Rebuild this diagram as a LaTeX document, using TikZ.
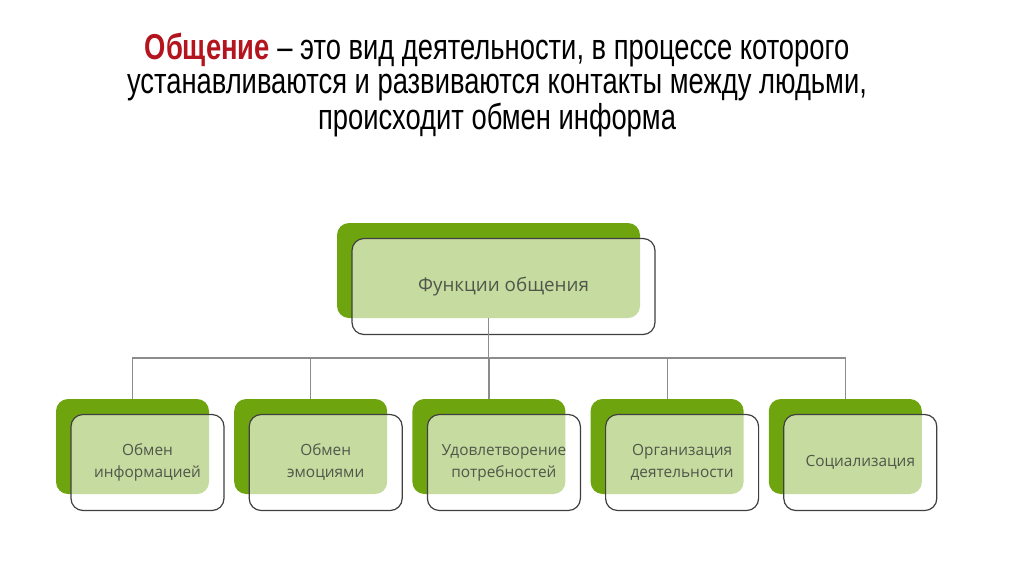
\documentclass[tikz,border=0pt]{standalone}
\usepackage{fontspec}
\setmainfont{Liberation Sans}
\newfontfamily\titlefont{Liberation Sans}[FakeStretch=0.76]
\newfontfamily\boxfont{Open Sans}
\usepackage{xcolor}
\usetikzlibrary{positioning,calc}

\definecolor{leaf}{HTML}{6EA50F}
\definecolor{boxtext}{HTML}{50574A}
\definecolor{linegray}{HTML}{8C8C8C}
\definecolor{accent}{HTML}{B3141E}

\begin{document}
\begin{tikzpicture}[
    x=0.5pt, y=-0.5pt,
    back/.style={fill=leaf, rounded corners=6pt, inner sep=0pt, outer sep=0pt, minimum width=76.5pt, minimum height=47.5pt},
    front/.style={draw=black!75, line width=0.6pt, fill=white, fill opacity=0.6, text opacity=1,
        rounded corners=6pt, inner sep=0pt, minimum width=76.5pt, minimum height=48pt,
        align=center, text=boxtext, font=\boxfont\fontsize{7.7}{11}\selectfont},
    link/.style={draw=linegray, line width=0.6pt},
    node distance=12.6pt,
]
\useasboundingbox (0,0) rectangle (1024,574);

% heading
\node[align=center, font=\titlefont\fontsize{18}{16.8}\selectfont] (title) at (497,85)
    {{\bfseries\color{accent}Общение} – это вид деятельности, в процессе которого\\
     устанавливаются и развиваются контакты между людьми,\\
     происходит обмен информа};

% top box
\node[back, minimum width=151.5pt] (top) at (488.5,270.5) {};
\node[front, minimum width=151.5pt, font=\boxfont\fontsize{9.4}{12}\selectfont] (topf) at ($(top)+(15,16)$) {Функции общения};

% lower row
\node[back] (b1) at (132.5,446.5) {};
\node[back, right=of b1] (b2) {};
\node[back, right=of b2] (b3) {};
\node[back, right=of b3] (b4) {};
\node[back, right=of b4] (b5) {};

\node[front] (f1) at ($(b1)+(15,16)$) {Обмен\\информацией};
\node[front] (f2) at ($(b2)+(15,16)$) {Обмен\\эмоциями};
\node[front] (f3) at ($(b3)+(15,16)$) {Удовлетворение\\потребностей};
\node[front] (f4) at ($(b4)+(15,16)$) {Организация\\деятельности};
\node[front] (f5) at ($(b5)+(15,16)$) {Социализация};

% connectors
\coordinate (bus) at (488.5,358);
\draw[link] (top.south) -- (bus);
\draw[link] (b1.north) |- (bus) -| (b5.north);
\foreach \n in {b2,b3,b4}
    \draw[link] (\n.north) -- (\n.north |- bus);
\end{tikzpicture}
\end{document}
